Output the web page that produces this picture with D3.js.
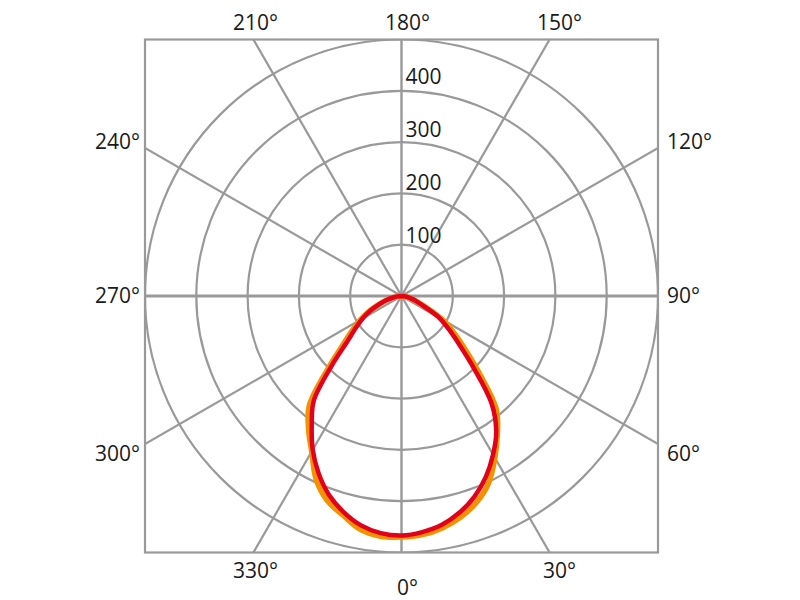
<!DOCTYPE html>
<html>
<head>
<meta charset="utf-8">
<script src="https://d3js.org/d3.v7.min.js"></script>
<style>
	body { margin: 0; background: #fff; }
	svg text { font-family: "Open Sans", "Noto Sans", sans-serif; font-size: 21px; fill: #1a1a1a; }
	.grid { fill: none; stroke: #999; stroke-width: 2.2; }
</style>
</head>
<body>
<div id="container"></div>
<script>
// angles in degrees, 0 = straight down, 90 = right, 180 = up
var angles = [270, 275, 280, 285, 290, 295, 300, 305, 310, 315, 320, 325, 330, 335, 340, 345, 350, 355,
              0, 5, 10, 15, 20, 25, 30, 35, 40, 45, 50, 55, 60, 65, 70, 75, 80, 85, 90];
var redValues = [0, 8, 17, 30, 45, 66, 87, 109, 138, 193, 266, 305, 346, 382, 413, 436, 454, 464,
                 467, 462, 453, 437, 416, 389, 357, 322, 273, 200, 147, 112, 85, 50, 32, 20, 11, 5, 0];
var orangeValues = [0, 8, 17, 30, 46, 68, 92, 117, 150, 206, 280, 316, 350, 394, 424, 442, 462, 470,
                    470, 467, 459, 446, 428, 402, 364, 326, 287, 216, 162, 124, 92, 54, 33, 20, 11, 5, 0];
var ringValues = [100, 200, 300, 400, 500];
var ringLabels = ["100", "200", "300", "400"];
var spokeAngles = [0, 30, 60, 90, 120, 150, 180, 210, 240, 270, 300, 330];

var width = 800, height = 600;
var cx = 401.5, cy = 296, half = 256.5;

var svg = d3.select("#container").append("svg")
	.attr("width", width)
	.attr("height", height);

var r = d3.scaleLinear().domain([0, 500]).range([0, half]);
var rad = function(deg){ return deg * Math.PI / 180; };

svg.append("clipPath").attr("id", "frameclip")
	.append("rect")
	.attr("x", cx - half).attr("y", cy - half)
	.attr("width", half * 2).attr("height", half * 2);

var g = svg.append("g").attr("transform", "translate(" + cx + "," + cy + ")");
var grid = g.append("g").attr("clip-path", "url(#frameclip)")
	.attr("transform", "translate(" + (-cx) + "," + (-cy) + ")")
	.append("g").attr("transform", "translate(" + cx + "," + cy + ")");

// rings
grid.selectAll("circle.ring")
	.data(ringValues)
	.enter().append("circle")
	.attr("class", "grid ring")
	.attr("r", function(d){ return r(d); });

// spokes, run out to the square frame
grid.selectAll("line.spoke")
	.data(spokeAngles)
	.enter().append("line")
	.attr("class", "grid spoke")
	.attr("x1", 0).attr("y1", 0)
	.attr("x2", function(d){ return 2 * half * Math.sin(rad(d)); })
	.attr("y2", function(d){ return 2 * half * Math.cos(rad(d)); })
	.style("stroke-width", function(d){ return (d == 90 || d == 270) ? 3 : (d % 180 == 0 ? 2.4 : 2.2); });

// frame
g.append("rect")
	.attr("class", "grid")
	.attr("x", -half).attr("y", -half)
	.attr("width", half * 2).attr("height", half * 2);

// ring value labels
g.selectAll("text.ringlabel")
	.data(ringLabels)
	.enter().append("text")
	.attr("x", 4)
	.attr("y", function(d){ return -r(+d) * 1.035; })
	.text(function(d){ return d; });

// angle labels round the frame
spokeAngles.forEach(function(a){
	var s = Math.sin(rad(a)), c = Math.cos(rad(a));
	var t = g.append("text").text(a + "°");
	if (Math.abs(c) >= 0.8) {
		// top or bottom edge
		var x = half * s / Math.abs(c);
		t.attr("text-anchor", "middle").attr("x", x + 6 + 8 * s);
		if (c < 0) t.attr("y", -half - 10);
		else t.attr("y", half + (a == 0 ? 42 : 25));
	} else {
		var y = half * c / Math.abs(s);
		if (s < 0) t.attr("text-anchor", "end").attr("x", -half - 5);
		else t.attr("text-anchor", "start").attr("x", half + 9);
		if (Math.abs(c) < 0.01) t.attr("y", 7);
		else if (c < 0) t.attr("y", y + 1);
		else t.attr("y", y + 17);
	}
});

// intensity curves
var line = d3.lineRadial()
	.angle(function(d){ return Math.PI - rad(d.a); })
	.radius(function(d){ return r(d.v); })
	.curve(d3.curveCatmullRom.alpha(0.5));

function series(vals){
	return angles.map(function(a, i){ return {a: a, v: vals[i]}; });
}

g.append("path")
	.datum(series(orangeValues))
	.attr("d", line)
	.style("fill", "none")
	.style("stroke", "#f39200")
	.style("stroke-width", 5.5)
	.style("stroke-linejoin", "round");

g.append("path")
	.datum(series(redValues))
	.attr("d", line)
	.style("fill", "none")
	.style("stroke", "#e2001a")
	.style("stroke-width", 4.5)
	.style("stroke-linejoin", "round");
</script>
</body>
</html>
